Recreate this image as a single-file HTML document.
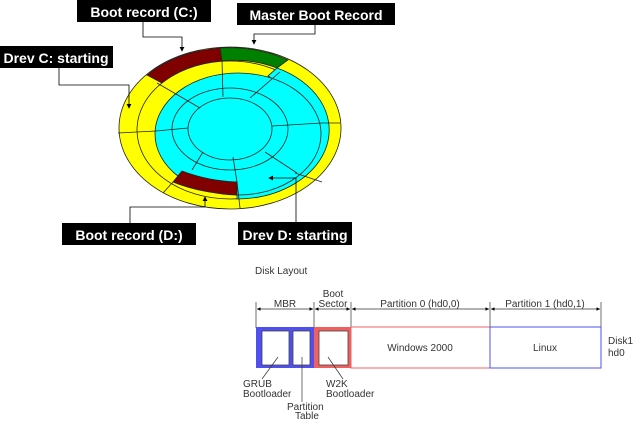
<!DOCTYPE html>
<html><head><style>
body{margin:0;background:#fff;}
svg{display:block;}
.lb{font-family:"Liberation Sans",Arial,sans-serif;font-weight:bold;font-size:14px;fill:#fff;}
.sm{font-family:"Liberation Sans",Arial,sans-serif;font-size:10px;fill:#333;}
</style></head><body>
<svg width="640" height="431" viewBox="0 0 640 431" xmlns="http://www.w3.org/2000/svg">
<defs><marker id="a" markerWidth="6" markerHeight="6" refX="5" refY="3" orient="auto"><path d="M0,0 L6,3 L0,6 Z" fill="#000"/></marker>
<marker id="s" markerWidth="5" markerHeight="5" refX="5" refY="2.5" orient="auto"><path d="M0,0 L5,2.5 L0,5 Z" fill="#000"/></marker>
<marker id="s2" markerWidth="5" markerHeight="5" refX="0" refY="2.5" orient="auto"><path d="M5,0 L0,2.5 L5,5 Z" fill="#000"/></marker></defs>
<g stroke="#222" stroke-width="0.8">
<ellipse cx="230" cy="128" rx="111" ry="81" fill="#ffff00"/>
<ellipse cx="230" cy="130" rx="93" ry="69" fill="#ffff00"/>
<path d="M277,68 A93,69 0 0,1 237,199 L237,182 A83,61 0 0,0 268,76 Z" fill="#00ffff"/>
<ellipse cx="238" cy="134" rx="83" ry="61" fill="#00ffff"/>
<ellipse cx="230" cy="129" rx="58" ry="41" fill="none"/>
<ellipse cx="230" cy="129" rx="42" ry="31" fill="#00ffff"/>
<path d="M147,75 A111,81 0 0,1 220,48 L222,61 A93,69 0 0,0 162,83 Z" fill="#800000"/>
<path d="M220,48 A111,81 0 0,1 288,60 L277,68 A93,69 0 0,0 222,61 Z" fill="#008000"/>
<path d="M182,171 Q208,181 237,182 L237,195 Q200,193 173,182 Z" fill="#800000"/>
<g fill="none">
<line x1="118" y1="133" x2="156" y2="131"/><line x1="163" y1="193" x2="173" y2="182"/>
<line x1="237" y1="182" x2="240" y2="208"/><line x1="295" y1="173" x2="322" y2="182"/>
<line x1="322" y1="123" x2="340" y2="123"/><line x1="222" y1="61" x2="223" y2="97"/>
<line x1="157" y1="83" x2="200" y2="108"/><line x1="156" y1="131" x2="188" y2="128"/>
<line x1="192" y1="170" x2="203" y2="152"/><line x1="233" y1="157" x2="237" y2="182"/>
<line x1="265" y1="152" x2="297" y2="173"/><line x1="272" y1="126" x2="322" y2="123"/>
<line x1="250" y1="98" x2="280" y2="72"/>
</g></g>
<g stroke="#000" stroke-width="0.8" fill="none">
<polyline points="143,22 143,37 182,37 182,51" marker-end="url(#a)"/>
<polyline points="315,24 315,34 254,34 254,44" marker-end="url(#a)"/>
<polyline points="59,67 59,85 129,85 129,108" marker-end="url(#a)"/>
<polyline points="130,223 130,207 205,207 205,197" marker-end="url(#a)"/>
<polyline points="296,222 296,178 269,178" marker-end="url(#a)"/>
</g>
<rect x="77" y="0" width="134" height="22" fill="#000"/><text x="144" y="17" text-anchor="middle" class="lb">Boot record (C:)</text>
<rect x="237" y="3" width="158" height="22" fill="#000"/><text x="316" y="20" text-anchor="middle" class="lb">Master Boot Record</text>
<rect x="0" y="46" width="113" height="22" fill="#000"/><text x="56" y="63" text-anchor="middle" class="lb">Drev C: starting</text>
<rect x="62" y="223" width="134" height="22" fill="#000"/><text x="129" y="240" text-anchor="middle" class="lb">Boot record (D:)</text>
<rect x="238" y="222" width="114" height="23" fill="#000"/><text x="295" y="240" text-anchor="middle" class="lb">Drev D: starting</text>

<text x="255" y="274" class="sm">Disk Layout</text>
<g stroke="#333" stroke-width="0.7">
<line x1="256" y1="302" x2="256" y2="328"/><line x1="314" y1="302" x2="314" y2="328"/>
<line x1="351" y1="302" x2="351" y2="328"/><line x1="490" y1="302" x2="490" y2="328"/>
<line x1="601" y1="302" x2="601" y2="328"/>
<line x1="257" y1="309" x2="313" y2="309" marker-start="url(#s2)" marker-end="url(#s)"/>
<line x1="315" y1="309" x2="350" y2="309" marker-start="url(#s2)" marker-end="url(#s)"/>
<line x1="352" y1="309" x2="489" y2="309" marker-start="url(#s2)" marker-end="url(#s)"/>
<line x1="491" y1="309" x2="600" y2="309" marker-start="url(#s2)" marker-end="url(#s)"/>
</g>
<text x="285" y="307" text-anchor="middle" class="sm">MBR</text>
<text x="333" y="297" text-anchor="middle" class="sm">Boot</text>
<text x="333" y="307" text-anchor="middle" class="sm">Sector</text>
<text x="420" y="307" text-anchor="middle" class="sm">Partition 0 (hd0,0)</text>
<text x="545" y="307" text-anchor="middle" class="sm">Partition 1 (hd0,1)</text>
<rect x="256" y="327" width="58" height="41" fill="#5050f0"/>
<rect x="314" y="327" width="37" height="41" fill="#f06060"/>
<rect x="351" y="327" width="139" height="41" fill="#fff" stroke="#f06060"/>
<rect x="490" y="327" width="111" height="41" fill="#fff" stroke="#5050f0"/>
<g fill="#fff" stroke="#444" stroke-width="0.8">
<rect x="262" y="331" width="27" height="34"/><rect x="293" y="331" width="17" height="34"/><rect x="319" y="331" width="29" height="34"/>
</g>
<text x="420" y="351" text-anchor="middle" class="sm">Windows 2000</text>
<text x="545" y="351" text-anchor="middle" class="sm">Linux</text>
<text x="608" y="344" class="sm">Disk1</text><text x="608" y="356" class="sm">hd0</text>
<g stroke="#333" stroke-width="0.7">
<line x1="278" y1="357" x2="262" y2="379"/><line x1="302" y1="357" x2="302" y2="402"/><line x1="328" y1="357" x2="343" y2="379"/>
</g>
<text x="243" y="387" class="sm">GRUB</text><text x="243" y="397" class="sm">Bootloader</text>
<text x="287" y="410" class="sm">Partition</text><text x="295" y="419" class="sm">Table</text>
<text x="326" y="387" class="sm">W2K</text><text x="326" y="397" class="sm">Bootloader</text>
</svg>
</body></html>
